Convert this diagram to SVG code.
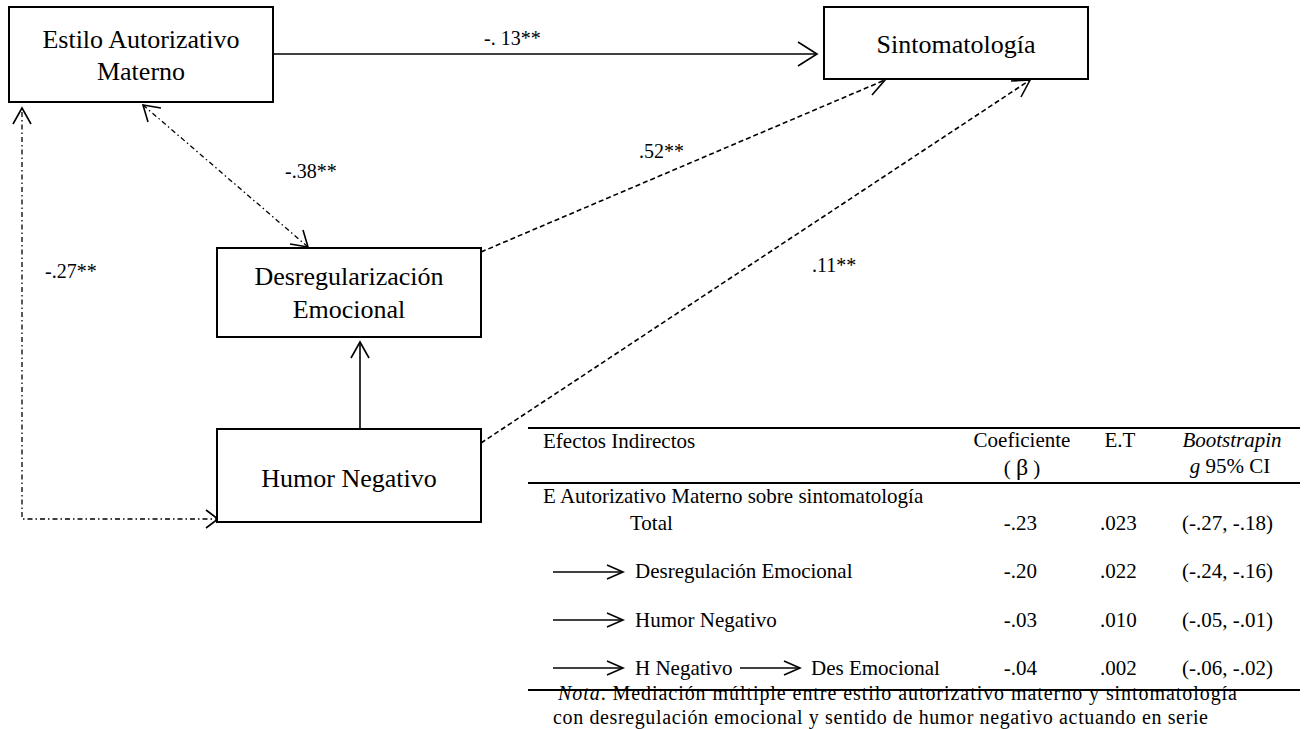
<svg xmlns="http://www.w3.org/2000/svg" width="1314" height="729" viewBox="0 0 1314 729">
  <style>
    .box { fill: #ffffff; stroke: #000000; stroke-width: 2; }
    .node { font-family: "Liberation Serif", "Times New Roman", serif; font-size: 26px; fill: #000000; text-anchor: middle; }
    .lbl { font-family: "Liberation Serif", "Times New Roman", serif; font-size: 20px; fill: #000000; }
    .tbl { font-family: "Liberation Serif", "Times New Roman", serif; font-size: 21px; fill: #000000; }
    .nota { font-family: "Liberation Serif", "Times New Roman", serif; font-size: 20px; fill: #000000; }
    .solid { fill: none; stroke: #000000; stroke-width: 1.6; }
    .dash { fill: none; stroke: #000000; stroke-width: 1.6; stroke-dasharray: 5 3; }
    .dashdot { fill: none; stroke: #000000; stroke-width: 1.3; stroke-dasharray: 5 3 1.5 3; }
    .head { fill: none; stroke: #000000; stroke-width: 1.6; }
    .rule { stroke: #000000; stroke-width: 2.2; }
  </style>

  <!-- connectors -->
  <g id="connectors">
    <!-- Estilo Autorizativo -> Sintomatologia -->
    <line class="solid" x1="265" y1="54" x2="817" y2="54"/>
    <polyline class="head" points="798,42 817,54 798,66"/>

    <!-- Desregularizacion -> Sintomatologia -->
    <line class="dash" x1="481" y1="252" x2="885" y2="80"/>
    <polyline class="head" points="866,77 885,80 872,95"/>

    <!-- Humor Negativo -> Sintomatologia -->
    <line class="dash" x1="481" y1="443" x2="1030" y2="80"/>
    <polyline class="head" points="1011,81 1030,80 1021,97"/>

    <!-- Estilo Autorizativo <-> Desregularizacion -->
    <line class="dashdot" x1="143" y1="105" x2="308" y2="247"/>
    <polyline class="head" points="148,122 143,105 161,108"/>
    <polyline class="head" points="303,230 308,247 290,244"/>

    <!-- Estilo Autorizativo <-> Humor Negativo -->
    <polyline class="dashdot" points="22,112 22,519 218,519"/>
    <polyline class="head" points="13,124 22,108 31,124"/>
    <polyline class="head" points="206,510 218,519 206,528"/>

    <!-- Humor Negativo -> Desregularizacion -->
    <line class="solid" x1="360" y1="435" x2="360" y2="342"/>
    <polyline class="head" points="351,358 360,342 369,358"/>
  </g>

  <!-- path coefficients -->
  <g id="coefficients">
    <text class="lbl" x="484" y="45">-. 13**</text>
    <text class="lbl" x="639" y="158">.52**</text>
    <text class="lbl" x="285" y="178">-.38**</text>
    <text class="lbl" x="45" y="278">-.27**</text>
    <text class="lbl" x="812" y="272">.11**</text>
  </g>

  <g id="estilo-autorizativo">
    <rect class="box" x="9" y="7" width="264" height="95"/>
    <text class="node" x="141" y="48">Estilo Autorizativo</text>
    <text class="node" x="141" y="80">Materno</text>
  </g>

  <g id="sintomatologia">
    <rect class="box" x="824" y="7" width="264" height="72"/>
    <text class="node" x="956" y="53">Sintomatología</text>
  </g>

  <g id="desregularizacion">
    <rect class="box" x="217" y="248" width="264" height="89"/>
    <text class="node" x="349" y="285">Desregularización</text>
    <text class="node" x="349" y="318">Emocional</text>
  </g>

  <g id="humor-negativo">
    <rect class="box" x="217" y="429" width="264" height="93"/>
    <text class="node" x="349" y="487">Humor Negativo</text>
  </g>

  <!-- indirect effects table -->
  <g id="tabla-efectos">
    <line class="rule" x1="528" y1="428" x2="1300" y2="428"/>
    <line class="rule" x1="528" y1="483" x2="1300" y2="483"/>
    <line class="rule" x1="528" y1="690" x2="1300" y2="690"/>

    <text class="tbl" x="543" y="448">Efectos Indirectos</text>
    <text class="tbl" x="1022" y="447" text-anchor="middle">Coeficiente</text>
    <text class="tbl" x="1022" y="475" text-anchor="middle">( <tspan font-size="24px">β</tspan> )</text>
    <text class="tbl" x="1120" y="447" text-anchor="middle">E.T</text>
    <text class="tbl" x="1232" y="447" text-anchor="middle" font-style="italic">Bootstrapin</text>
    <text class="tbl" x="1230" y="473" text-anchor="middle"><tspan font-style="italic">g</tspan> 95% CI</text>

    <text class="tbl" x="543" y="503">E Autorizativo Materno sobre sintomatología</text>
    <text class="tbl" x="630" y="530">Total</text>
    <text class="tbl" x="1037" y="530" text-anchor="end">-.23</text>
    <text class="tbl" x="1100" y="530">.023</text>
    <text class="tbl" x="1182" y="530">(-.27, -.18)</text>

    <line class="solid" x1="553" y1="572" x2="623" y2="572"/>
    <polyline class="head" points="607,565 623,572 607,579"/>
    <text class="tbl" x="635" y="578">Desregulación Emocional</text>
    <text class="tbl" x="1037" y="578" text-anchor="end">-.20</text>
    <text class="tbl" x="1100" y="578">.022</text>
    <text class="tbl" x="1182" y="578">(-.24, -.16)</text>

    <line class="solid" x1="553" y1="620" x2="623" y2="620"/>
    <polyline class="head" points="607,613 623,620 607,627"/>
    <text class="tbl" x="635" y="627">Humor Negativo</text>
    <text class="tbl" x="1037" y="627" text-anchor="end">-.03</text>
    <text class="tbl" x="1100" y="627">.010</text>
    <text class="tbl" x="1182" y="627">(-.05, -.01)</text>

    <line class="solid" x1="553" y1="668" x2="623" y2="668"/>
    <polyline class="head" points="607,661 623,668 607,675"/>
    <text class="tbl" x="635" y="675">H Negativo</text>
    <line class="solid" x1="740" y1="668" x2="800" y2="668"/>
    <polyline class="head" points="784,661 800,668 784,675"/>
    <text class="tbl" x="811" y="675">Des Emocional</text>
    <text class="tbl" x="1037" y="675" text-anchor="end">-.04</text>
    <text class="tbl" x="1100" y="675">.002</text>
    <text class="tbl" x="1182" y="675">(-.06, -.02)</text>

    <text class="nota" x="558" y="700" textLength="679" lengthAdjust="spacing"><tspan font-style="italic">Nota</tspan>. Mediación múltiple entre estilo autorizativo materno y sintomatología</text>
    <text class="nota" x="553" y="724" textLength="655" lengthAdjust="spacing">con desregulación emocional y sentido de humor negativo actuando en serie</text>
  </g>
</svg>
